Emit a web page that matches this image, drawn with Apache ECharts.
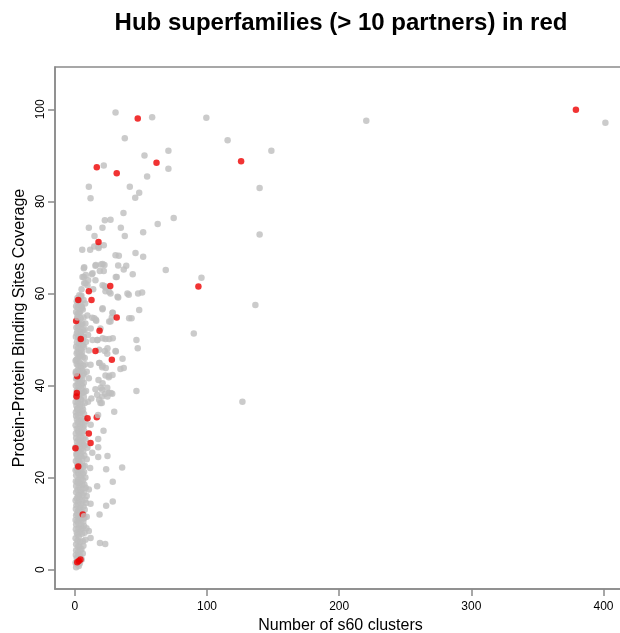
<!DOCTYPE html>
<html>
<head>
<meta charset="utf-8">
<script src="https://cdn.jsdelivr.net/npm/echarts@6/dist/echarts.min.js"></script>
<style>
  html, body { margin: 0; padding: 0; background: #fff; }
  #chart { width: 620px; height: 633px; }
</style>
</head>
<body>
<div id="chart"></div>
<script>
// Superfamilies: number of s60 clusters vs. binding-site coverage (%)
const xTicks = [0, 100, 200, 300, 400];
const yTicks = [0, 20, 40, 60, 80, 100];

// Superfamilies with at most 10 partners (grey)
const otherFamilies = [
  [30.8,99.3],[58.5,98.3],[99.5,98.2],[220.5,97.5],[401.4,97.1],[115.6,93.3],[37.8,93.7],
  [70.8,91.0],[148.7,91.0],[52.7,90.0],[70.8,87.1],[21.9,87.8],[54.7,85.4],[10.6,83.2],
  [41.6,83.2],[139.8,82.9],[48.7,81.9],[45.7,80.8],[11.9,80.7],[36.8,77.5],[74.8,76.4],
  [62.7,75.1],[22.7,75.9],[27.0,76.0],[10.6,74.3],[20.9,74.3],[34.8,74.3],[51.7,73.3],
  [139.8,72.8],[37.8,72.5],[14.9,72.5],[21.9,70.5],[18.0,69.9],[5.6,69.5],[11.6,69.5],
  [30.8,68.3],[33.3,68.2],[45.9,68.8],[51.7,68.0],[68.8,65.1],[95.8,63.4],[6.8,65.5],
  [15.6,66.0],[19.9,66.3],[22.4,66.2],[32.8,66.1],[38.9,66.0],[37.0,65.2],[21.9,64.9],
  [43.8,64.2],[31.7,63.6],[6.8,63.6],[12.9,64.2],[10.1,62.9],[15.6,62.9],[8.1,62.2],
  [22.4,61.6],[5.1,60.9],[13.9,60.9],[23.2,60.5],[27.0,60.0],[32.8,59.1],[40.8,59.7],
  [47.9,60.0],[50.9,60.2],[2.0,59.0],[4.8,57.0],[20.9,56.6],[48.7,56.4],[28.7,55.8],
  [42.9,54.6],[13.2,54.7],[16.2,54.1],[27.0,53.9],[19.4,52.4],[90.0,51.3],[136.6,57.5],
  [126.8,36.5],[46.6,49.9],[47.6,48.1],[16.9,49.9],[23.2,50.1],[28.7,50.3],[10.6,47.6],
  [22.7,47.5],[30.8,47.5],[24.5,46.9],[36.1,45.8],[18.7,44.9],[11.9,44.5],[20.7,44.0],
  [34.5,43.6],[37.0,43.8],[23.2,42.2],[25.7,41.8],[10.6,41.6],[46.6,38.8],[15.6,39.2],
  [20.7,39.1],[24.5,39.5],[25.7,38.4],[28.3,38.2],[16.9,38.0],[20.7,37.6],[19.4,36.2],
  [29.8,34.3],[21.7,30.2],[17.7,28.4],[17.7,26.6],[24.7,24.7],[17.7,24.5],[13.2,25.4],
  [35.8,22.2],[23.7,21.8],[11.6,22.1],[28.7,19.1],[16.9,18.1],[10.6,17.4],[28.7,14.8],
  [23.7,13.9],[11.9,14.3],[18.7,12.0],[19.0,5.8],[23.0,5.6],[11.9,6.9],[10.6,8.4],
  [5.8,63.6],[8.3,64.0],[13.4,64.4],[7.1,62.2],[9.6,61.8],[21.0,61.8],[23.4,61.3],
  [26.0,60.4],[31.0,63.6],[39.8,60.0],[32.3,59.3],[4.5,59.3],[5.3,57.1],[21.0,56.8],
  [14.7,54.6],[15.9,54.3],[28.5,55.8],[26.0,53.9],[28.0,54.8],[41.1,54.6],[21.0,50.3],
  [26.0,50.1],[17.2,49.9],[13.4,49.9],[18.4,47.8],[24.7,48.1],[31.0,47.4],[18.4,44.9],
  [21.0,44.3],[23.4,43.8],[26.0,42.1],[28.5,42.3],[17.9,41.2],[21.0,40.5],[19.7,39.5],
  [23.0,38.2],[27.2,38.4],[24.7,37.6],[18.4,36.9],[20.4,36.2],[7.1,65.7],[15.9,66.2],
  [21.0,66.4],[18.9,64.9],[14.7,70.2],[17.9,70.2],
  // dense column of small superfamilies
  [1.0,0.5],[2.0,1.2],[3.0,0.8],[1.5,2.5],[4.0,3.0],[2.5,3.8],[5.0,4.5],[1.0,4.2],[3.5,5.0],[6.0,3.5],
  [1.0,5.5],[2.0,6.3],[4.0,6.0],[3.0,7.2],[5.5,7.8],[1.5,8.0],[2.8,9.0],[7.0,9.5],[4.5,8.8],[1.0,9.8],
  [8.0,6.5],[6.5,5.2],
  [2.0,10.5],[3.5,11.0],[5.0,10.8],[1.0,11.8],[6.0,12.0],[2.5,12.8],[4.0,13.5],[7.5,13.0],[1.2,14.0],
  [3.0,14.8],[9.0,11.5],[8.5,14.5],[5.5,15.0],
  [1.5,15.5],[3.0,16.2],[4.5,16.8],[2.0,17.3],[6.0,17.6],[1.0,18.2],[3.8,18.8],[7.2,18.5],[2.6,19.5],
  [5.0,19.8],[9.0,16.0],[8.0,20.0],
  [1.0,20.5],[2.5,21.0],[4.0,21.6],[6.0,20.8],[1.8,22.8],[3.5,23.3],[5.5,23.0],[7.5,22.6],[2.2,24.0],
  [4.8,24.6],[9.0,24.0],
  [1.2,25.2],[3.0,25.8],[5.0,26.2],[2.0,27.0],[6.5,27.2],[4.0,28.0],[1.0,28.6],[8.0,28.3],[3.2,29.4],
  [5.8,29.8],[9.5,26.5],[2.5,30.0],
  [1.5,30.6],[3.8,31.2],[6.0,31.0],[2.2,32.0],[4.5,32.5],[8.0,32.2],[1.0,33.4],[3.0,34.0],[5.5,34.4],
  [7.0,33.8],[12.0,31.5],[2.0,35.0],
  [1.2,35.6],[3.5,36.0],[5.0,36.8],[2.5,37.3],[6.8,37.5],[4.0,38.2],[1.5,39.0],[3.0,39.6],[8.5,38.8],
  [6.0,39.8],[10.0,36.5],[12.5,37.2],
  [2.0,40.3],[4.0,40.8],[1.0,41.5],[5.5,41.2],[3.0,42.3],[7.0,42.6],[2.2,43.4],[4.8,43.8],[1.5,44.6],
  [6.5,44.3],[9.0,43.0],[3.5,45.0],
  [1.2,45.6],[3.0,46.2],[5.0,46.6],[7.5,46.0],[2.0,47.3],[4.5,47.8],[1.0,48.4],[6.0,48.7],[3.2,49.2],
  [8.5,49.5],[2.5,50.5],[5.2,50.8],
  [1.5,51.3],[3.8,51.8],[6.5,52.0],[2.4,52.8],[4.8,53.2],[8.0,53.5],[1.8,54.5],[10.0,51.0],[12.0,52.4],
  [2.0,55.5],[4.0,56.0],[6.0,56.5],[3.0,57.5],[7.8,57.8],[1.5,58.3],[5.0,59.5],[9.5,55.2],
  [0.6,1.5],[2.2,2.8],[3.8,1.4],[5.2,2.2],[0.8,3.2],[3.2,3.0],[6.0,6.2],[2.4,5.0],[4.2,4.2],[0.6,6.8],
  [3.6,8.2],[5.8,9.0],[2.0,7.6],[7.4,8.0],[0.8,8.8],[4.6,9.6],[2.8,10.0],[8.8,9.0],[6.4,10.4],
  [0.6,10.8],[4.4,11.6],[2.8,11.4],[7.2,11.2],[1.8,12.2],[5.4,12.6],[3.4,13.0],[0.8,13.2],[6.6,13.8],
  [2.2,14.4],[4.8,14.2],[7.8,15.2],[0.6,15.0],[3.6,15.6],[5.8,16.2],[2.4,16.0],[1.0,16.8],[6.8,16.6],
  [4.0,17.4],[8.2,17.8],[0.8,19.2],[3.0,18.2],[5.4,18.6],[2.0,19.0],[6.2,19.4],[4.2,20.2],
  [0.6,21.6],[3.2,20.6],[5.0,21.4],[7.0,21.2],[1.6,21.8],[2.8,22.4],[4.4,22.6],[6.4,22.4],[0.8,23.6],
  [3.0,24.2],[5.6,24.2],[7.2,24.8],[1.4,24.8],[2.4,25.6],[4.2,25.4],[6.4,25.8],[0.6,26.6],[3.6,26.8],
  [5.4,27.4],[7.4,27.0],[1.6,27.8],[2.8,28.2],[4.8,28.8],[6.6,28.6],[0.8,29.6],[4.0,29.8],[7.0,30.2],
  [0.6,31.4],[2.8,30.8],[5.0,31.6],[7.2,31.4],[1.6,32.6],[3.4,32.2],[6.4,32.8],[0.8,34.2],[2.4,33.6],
  [4.2,34.0],[6.2,34.8],[1.8,34.8],[3.8,35.4],[5.6,35.6],[0.6,36.4],[2.2,36.4],[4.4,37.0],[7.6,36.2],
  [1.0,37.8],[3.2,38.0],[5.4,38.4],[7.2,38.6],[2.0,38.8],[4.6,39.4],[0.8,40.0],
  [3.0,40.6],[5.0,40.2],[6.8,40.6],[1.8,41.6],[4.0,42.0],[6.0,42.2],[0.8,43.0],[3.4,43.2],[5.6,43.2],
  [2.6,44.4],[4.2,44.8],[7.8,44.6],[0.6,45.4],[2.2,46.0],[4.0,46.4],[6.2,46.2],[1.4,47.0],[3.6,47.2],
  [5.6,47.4],[2.6,48.2],[4.6,48.8],[7.0,48.4],[1.6,49.4],[4.0,50.0],[6.2,49.8],
  [0.8,50.6],[3.2,50.8],[6.8,50.6],[2.0,51.8],[5.0,51.6],[7.6,52.2],[1.2,52.6],[3.6,53.0],[5.8,53.4],
  [2.6,54.0],[4.4,54.6],[6.6,54.8],[1.0,56.0],[3.0,55.8],[5.2,56.8],[2.2,57.0],[4.2,58.0],[6.6,58.6],
  [3.4,59.6],[1.0,57.2]
];

// Hub superfamilies (> 10 partners, red)
const hubFamilies = [
  [379.1,99.9],[47.6,98.0],[125.8,88.7],[61.8,88.4],[16.6,87.4],[31.7,86.1],[17.9,71.2],
  [93.5,61.5],[26.8,61.6],[10.6,60.5],[2.6,58.6],[12.6,58.6],[31.7,54.8],[1.0,54.0],
  [18.7,51.9],[4.5,50.1],[15.6,47.5],[28.0,45.6],[1.8,42.0],[1.5,38.4],[1.3,37.6],
  [9.6,32.9],[16.6,33.1],[10.6,29.6],[11.9,27.5],[0.5,26.4],[2.6,22.4],[6.0,12.0],
  [1.8,1.6],[4.3,2.2],[3.0,1.9]
];

// Grey superfamilies plotted after the hubs (they sit on top of them)
const otherFamiliesTop = [
  [7.0,11.6],[17.6,33.6],[2.0,54.8],[0.8,42.6]
];

const FONT = '"Liberation Sans", Arial, Helvetica, sans-serif';
const GREY = '#bebebe';
const RED = '#ee0000';
const FRAME = '#8a8a8a';
const DOT = 6.5;

const chart = echarts.init(document.getElementById('chart'), null, { renderer: 'canvas' });

chart.setOption({
  animation: false,
  backgroundColor: '#ffffff',
  grid: {
    left: 55, top: 67, width: 571, height: 522,
    // the plot frame runs slightly past the right edge of the page
    outerBoundsMode: 'none',
    show: true, borderColor: FRAME, borderWidth: 1.5,
    containLabel: false
  },
  graphic: [{
    type: 'text',
    x: 341, y: 23,
    style: {
      text: 'Hub superfamilies (> 10 partners) in red',
      font: 'bold 24px ' + FONT,
      fill: '#000',
      align: 'center',
      verticalAlign: 'middle'
    }
  }],
  xAxis: {
    type: 'value',
    min: -15, max: 417,
    splitLine: { show: false },
    axisLine: { show: true, onZero: false, lineStyle: { color: FRAME, width: 1.5 } },
    axisTick: { show: true, length: 7, customValues: xTicks, lineStyle: { color: FRAME, width: 1.5 } },
    axisLabel: { customValues: xTicks, margin: 12, fontSize: 12, color: '#000', fontFamily: FONT },
    name: 'Number of s60 clusters',
    nameLocation: 'middle',
    nameGap: 23,
    nameTextStyle: { fontSize: 16, color: '#000', fontFamily: FONT }
  },
  yAxis: {
    type: 'value',
    min: -4.2, max: 109.2,
    splitLine: { show: false },
    axisLine: { show: true, onZero: false, lineStyle: { color: FRAME, width: 1.5 } },
    axisTick: { show: true, length: 7, customValues: yTicks, lineStyle: { color: FRAME, width: 1.5 } },
    axisLabel: { customValues: yTicks, rotate: 90, margin: 8, fontSize: 12, color: '#000', fontFamily: FONT },
    name: 'Protein-Protein Binding Sites Coverage',
    nameLocation: 'middle',
    nameGap: 25,
    nameTextStyle: { fontSize: 16, color: '#000', fontFamily: FONT }
  },
  series: [
    {
      type: 'scatter', data: otherFamilies, symbolSize: DOT,
      itemStyle: { color: GREY }, z: 2
    },
    {
      type: 'scatter', data: hubFamilies, symbolSize: DOT,
      itemStyle: { color: RED }, z: 3
    },
    {
      type: 'scatter', data: otherFamiliesTop, symbolSize: DOT,
      itemStyle: { color: GREY }, z: 4
    }
  ]
});
</script>
</body>
</html>
